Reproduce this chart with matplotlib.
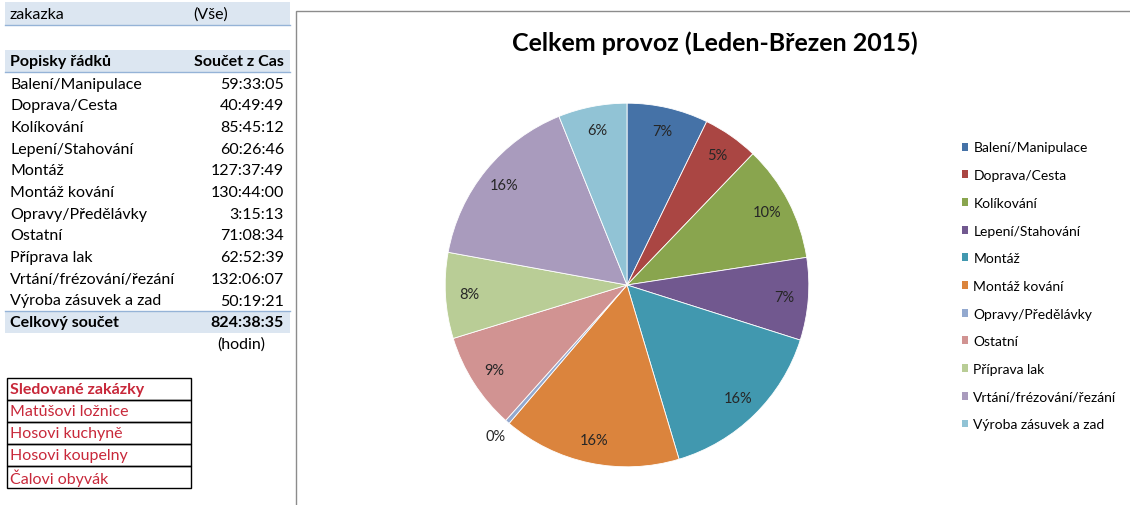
import matplotlib
matplotlib.use('Agg')
import matplotlib.pyplot as plt
from matplotlib.patches import Rectangle, Patch
import numpy as np

plt.rcParams['font.family'] = ['Lato', 'DejaVu Sans']

# Pivot table data (time summed per activity, H:M:S)
categories = ['Balení/Manipulace', 'Doprava/Cesta', 'Kolíkování', 'Lepení/Stahování',
              'Montáž', 'Montáž kování', 'Opravy/Předělávky', 'Ostatní',
              'Příprava lak', 'Vrtání/frézování/řezání', 'Výroba zásuvek a zad']
times = ['59:33:05', '40:49:49', '85:45:12', '60:26:46', '127:37:49', '130:44:00',
         '3:15:13', '71:08:34', '62:52:39', '132:06:07', '50:19:21']
total_time = '824:38:35'
tracked_orders = ['Matůšovi ložnice', 'Hosovi kuchyně', 'Hosovi koupelny', 'Čalovi obyvák']
colors = ['#4572A7', '#AA4643', '#89A54E', '#71588F', '#4198AF', '#DB843D',
          '#93A9CF', '#D19392', '#B9CD96', '#A99BBD', '#91C3D5']


def to_hours(s):
    h, m, sec = [int(p) for p in s.split(':')]
    return h + m / 60 + sec / 3600


hours = np.array([to_hours(t) for t in times])

# percentages rounded so they sum to 100 (largest remainder)
pct = hours / hours.sum() * 100
pct_int = np.floor(pct).astype(int)
rest = 100 - pct_int.sum()
for i in np.argsort(-(pct - pct_int))[:rest]:
    pct_int[i] += 1

W, H = 1130, 506
fig = plt.figure(figsize=(W / 100, H / 100), dpi=100)

# background axes in pixel coordinates for the table and the frame
bg = fig.add_axes([0, 0, 1, 1])
bg.set_xlim(0, W)
bg.set_ylim(H, 0)
bg.axis('off')

head_bg = '#DCE6F1'
head_line = '#95B3D7'
fs = 11.5

# filter row
bg.add_patch(Rectangle((5, 3), 285, 23, facecolor=head_bg, edgecolor='none'))
bg.plot([5, 290], [26, 26], color=head_line, lw=1)
bg.text(10, 15, 'zakazka', fontsize=fs, va='center')
bg.text(193, 15, '(Vše)', fontsize=fs, va='center')

# header row
bg.add_patch(Rectangle((5, 51), 285, 22, facecolor=head_bg, edgecolor='none'))
bg.plot([5, 290], [73, 73], color=head_line, lw=1)
bg.text(10, 62, 'Popisky řádků', fontsize=fs, va='center', fontweight='bold')
bg.text(284, 62, 'Součet z Cas', fontsize=fs, va='center', ha='right', fontweight='bold')

row_h = 21.7
y0 = 84.5
for i, (cat, t) in enumerate(zip(categories, times)):
    y = y0 + i * row_h
    bg.text(10, y, cat, fontsize=fs, va='center')
    bg.text(284, y, t, fontsize=fs, va='center', ha='right')

y_tot = y0 + len(categories) * row_h
bg.add_patch(Rectangle((5, y_tot - 11), 285, 22, facecolor=head_bg, edgecolor='none'))
bg.plot([5, 290], [y_tot - 11, y_tot - 11], color=head_line, lw=1)
bg.text(10, y_tot, 'Celkový součet', fontsize=fs, va='center', fontweight='bold')
bg.text(284, y_tot, total_time, fontsize=fs, va='center', ha='right', fontweight='bold')
bg.text(217, y_tot + row_h, '(hodin)', fontsize=fs, va='center')

# tracked orders box
red = '#C8283A'
box_top = 379
box_h = 22
labels_box = ['Sledované zakázky'] + tracked_orders
for i, lab in enumerate(labels_box):
    y = box_top + i * box_h
    bg.add_patch(Rectangle((7, y), 184, box_h, facecolor='none', edgecolor='black', lw=1))
    bg.text(10, y + box_h / 2, lab, fontsize=fs, va='center', color=red,
            fontweight='bold' if i == 0 else 'normal')

# chart frame
bg.add_patch(Rectangle((296, 12), 850, 520, facecolor='white', edgecolor='#8C8C8C', lw=1))
bg.text(715, 43, 'Celkem provoz (Leden-Březen 2015)', fontsize=18, fontweight='bold',
        ha='center', va='center')

# pie
cx, cy, box = 627, 286, 400
ax = fig.add_axes([(cx - box / 2) / W, (H - cy - box / 2) / H, box / W, box / H])
wedges, texts, autotexts = ax.pie(hours, colors=colors, startangle=90, counterclock=False,
                                  radius=1, autopct='%1.0f%%', pctdistance=0.87,
                                  wedgeprops=dict(edgecolor='white', linewidth=0.6),
                                  textprops=dict(fontsize=10.5, color='#262626'))
for t, p in zip(autotexts, pct_int):
    t.set_text(f'{p}%')

# tiny slice gets its label outside
for w, t, p in zip(wedges, autotexts, pct):
    if p < 1:
        ang = np.deg2rad((w.theta1 + w.theta2) / 2)
        t.set_position((1.1 * np.cos(ang), 1.1 * np.sin(ang)))

ax.set_xlim(-1.1, 1.1)
ax.set_ylim(-1.1, 1.1)
ax.set_aspect('equal')
ax.axis('off')

handles = [Patch(facecolor=c, edgecolor='none') for c in colors]
fig.legend(handles, categories, loc='upper left',
           bbox_to_anchor=(949 / W, 1 - 130 / H), frameon=False, fontsize=10,
           handlelength=0.5, handleheight=0.5, handletextpad=0.35, labelspacing=1.13)

fig.savefig('out.png', dpi=100)
